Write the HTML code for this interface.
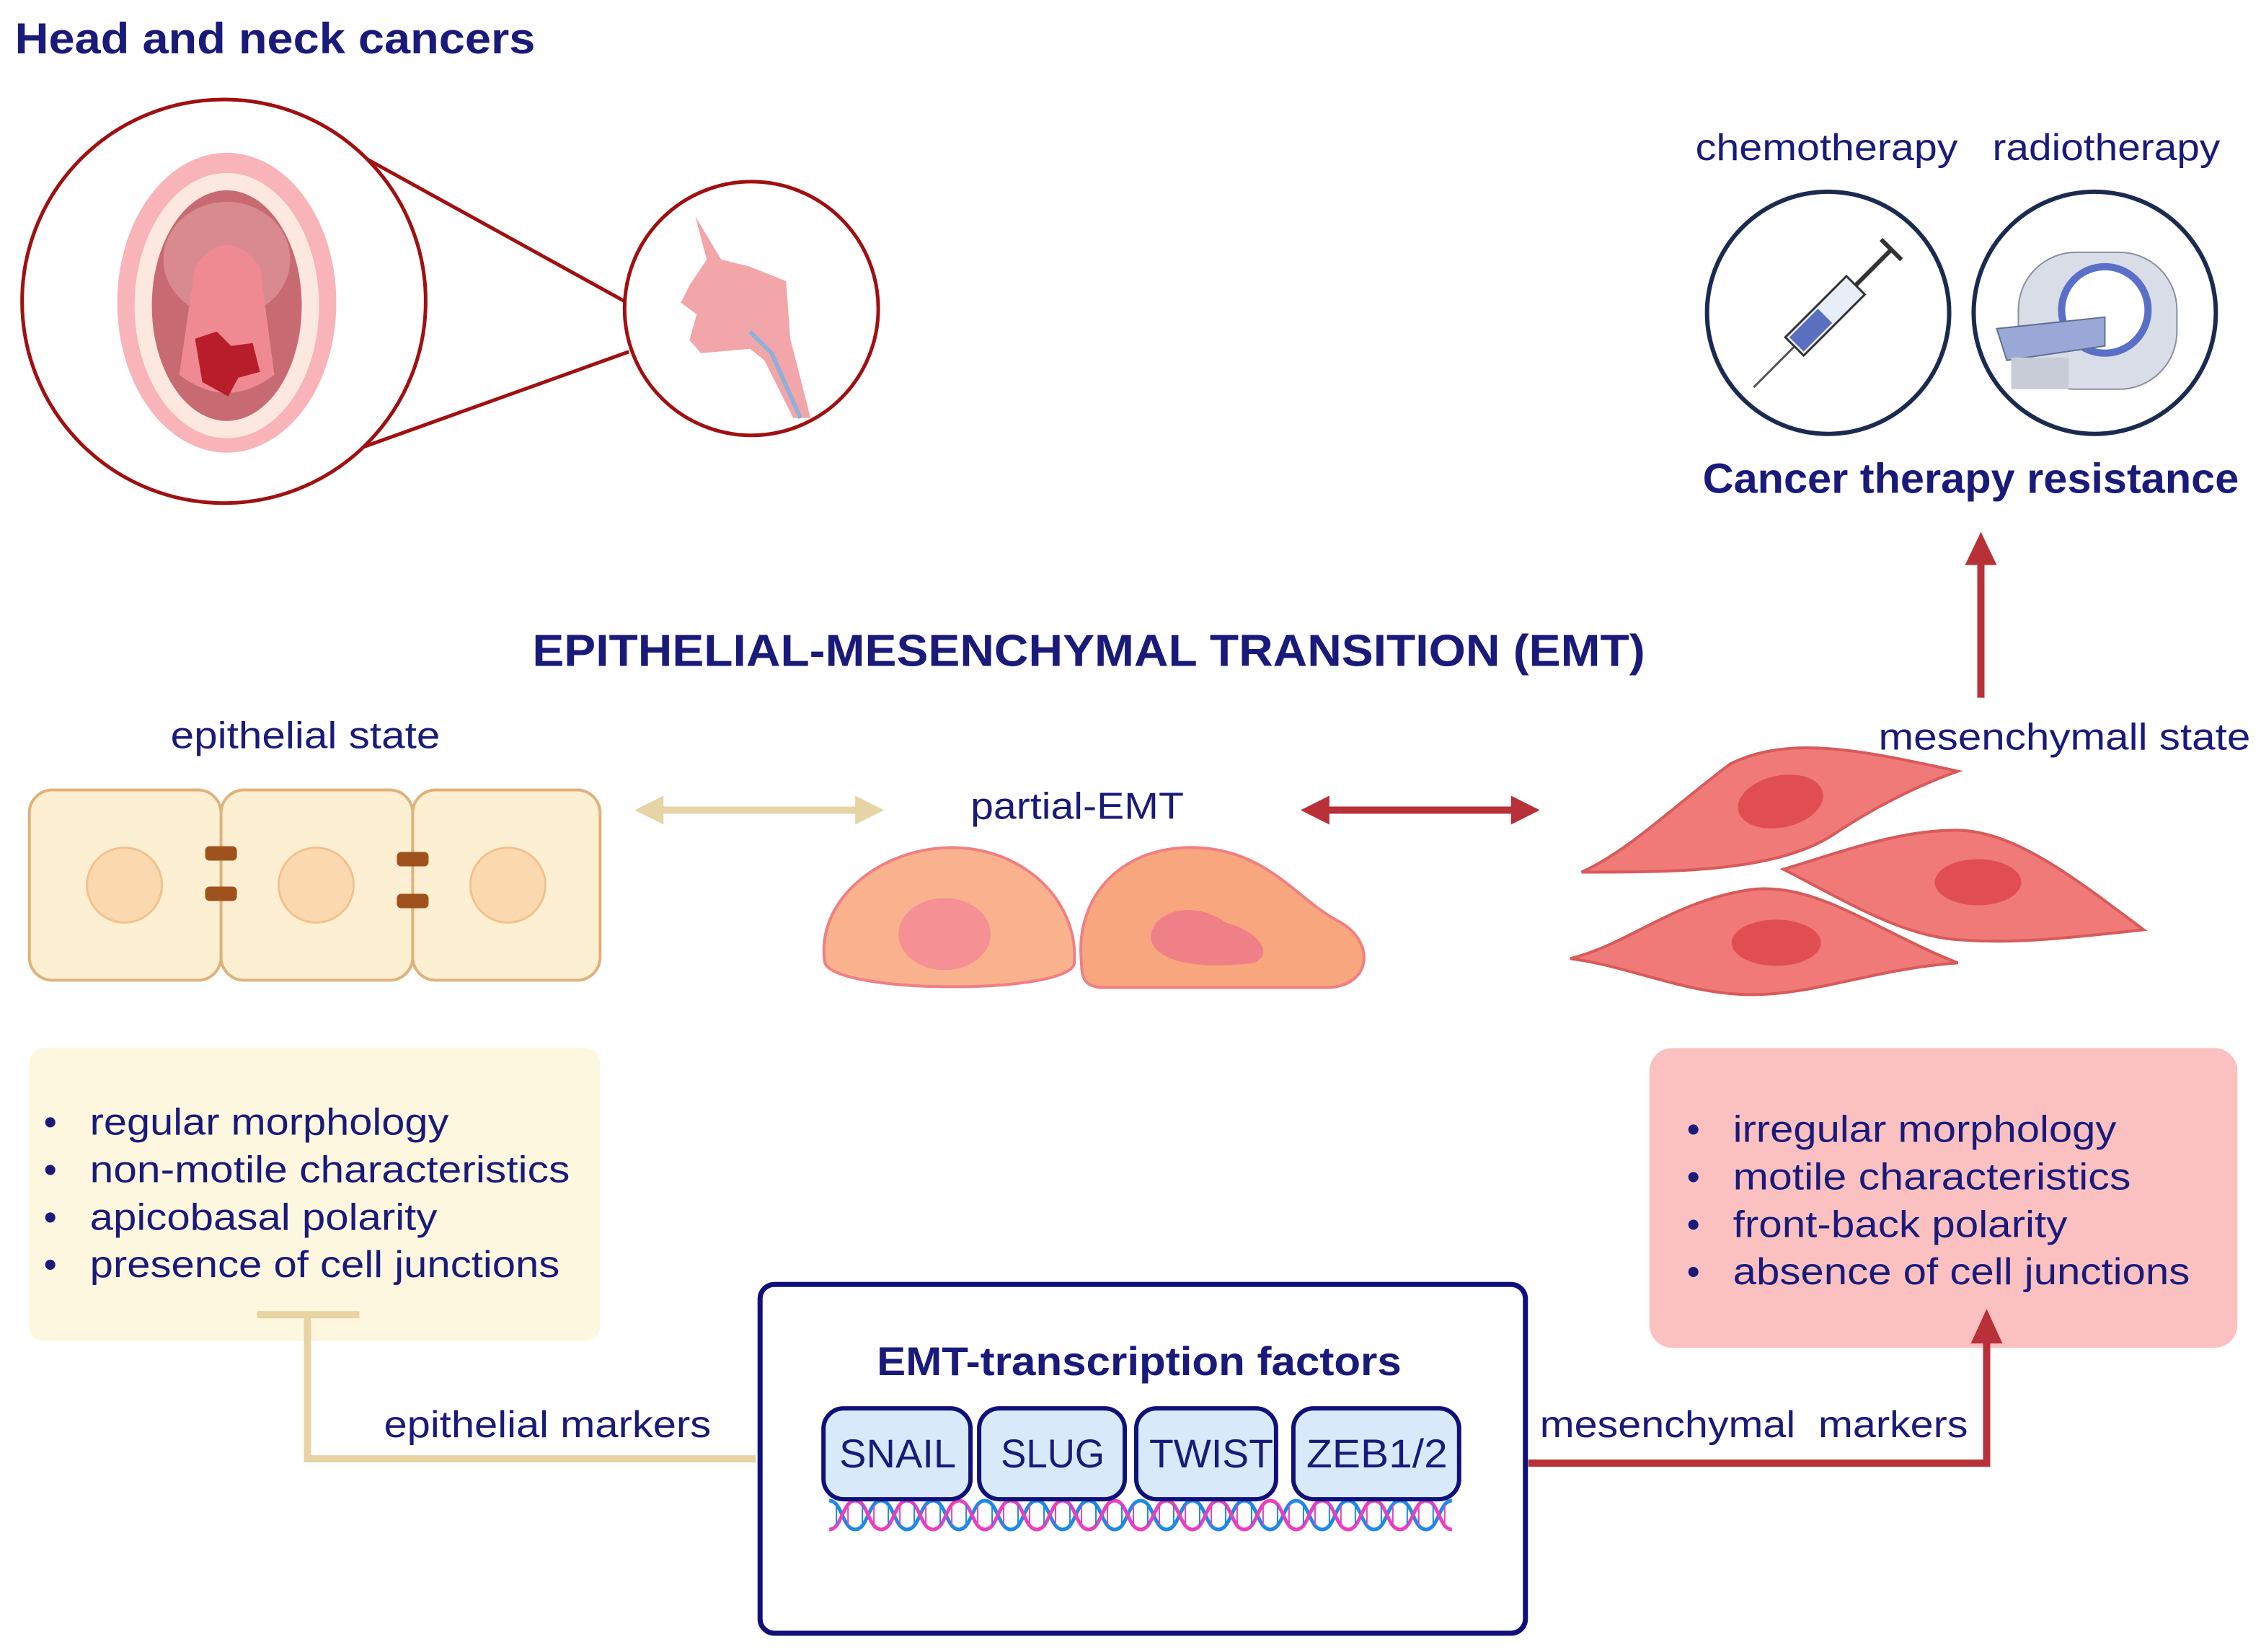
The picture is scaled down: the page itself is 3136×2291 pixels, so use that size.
<!DOCTYPE html>
<html><head><meta charset="utf-8"><style>
html,body{margin:0;padding:0;background:#fff}
svg{display:block}
text{font-family:"Liberation Sans",sans-serif;fill:#1a1a7a}
</style></head><body>
<svg width="3136" height="2291" viewBox="0 0 1568 1146" xmlns="http://www.w3.org/2000/svg">
<defs>
<pattern id="dna" x="575" y="1038" width="36" height="26" patternUnits="userSpaceOnUse">
<path d="M0,3 C9,3 9,23 18,23 C27,23 27,3 36,3" fill="none" stroke="#1e88e5" stroke-width="2.5"/>
<path d="M0,23 C9,23 9,3 18,3 C27,3 27,23 36,23" fill="none" stroke="#e83fbf" stroke-width="2.5"/>
<line x1="5" y1="6" x2="5" y2="20" stroke="#1e88e5" stroke-width="1"/>
<line x1="13" y1="6" x2="13" y2="20" stroke="#e83fbf" stroke-width="1"/>
<line x1="23" y1="6" x2="23" y2="20" stroke="#1e88e5" stroke-width="1"/>
<line x1="31" y1="6" x2="31" y2="20" stroke="#e83fbf" stroke-width="1"/>
</pattern>
</defs>

<text x="10" y="37" font-size="30" font-weight="bold" textLength="361" lengthAdjust="spacingAndGlyphs">Head and neck cancers</text>

<!-- magnifier -->
<line x1="250" y1="108" x2="433" y2="209" stroke="#a01010" stroke-width="2.5"/>
<line x1="252" y1="310" x2="436" y2="244" stroke="#a01010" stroke-width="2.5"/>
<circle cx="155" cy="209" r="140" fill="#fff" stroke="#a01010" stroke-width="2.5"/>
<circle cx="521" cy="214" r="88" fill="#fff" stroke="#a01010" stroke-width="2.5"/>
<!-- mouth -->
<ellipse cx="157" cy="210" rx="76" ry="104" fill="#f8b4b8"/>
<ellipse cx="157" cy="212" rx="64" ry="92" fill="#fde8e0"/>
<ellipse cx="157" cy="212" rx="52" ry="80" fill="#c86a72"/>
<ellipse cx="157" cy="180" rx="44" ry="40" fill="#d98a8e"/>
<path d="M135,185 Q157,155 180,185 L190,260 Q157,285 124,260 Z" fill="#f08a92"/>
<path d="M135,235 L150,230 L160,240 L175,238 L180,258 L165,262 L158,275 L140,265 Z" fill="#b81e2a"/>
<!-- throat profile -->
<path d="M482,150 L490,180 L478,198 L472,210 L483,218 L478,236 L486,245 L520,242 L530,250 L550,290 L562,290 L548,235 L545,195 L520,185 L500,180 Z" fill="#f0969a" opacity="0.85"/>
<path d="M520,230 L535,245 L555,290" stroke="#8fb0d8" stroke-width="3" fill="none"/>

<!-- therapy -->
<text x="1176" y="111" font-size="26" textLength="182" lengthAdjust="spacingAndGlyphs">chemotherapy</text>
<text x="1382" y="111" font-size="26" textLength="158" lengthAdjust="spacingAndGlyphs">radiotherapy</text>
<circle cx="1268" cy="217" r="84" fill="#fff" stroke="#1a2a50" stroke-width="3"/>
<circle cx="1453" cy="217" r="84" fill="#fff" stroke="#1a2a50" stroke-width="3"/>
<g transform="rotate(-45 1268 217)">
<line x1="1195" y1="217" x2="1235" y2="217" stroke="#555" stroke-width="1.5"/>
<rect x="1235" y="208" width="60" height="18" fill="#e8eef8" stroke="#333" stroke-width="1.5"/>
<rect x="1237" y="210" width="28" height="14" fill="#5a6fc0"/>
<line x1="1295" y1="217" x2="1330" y2="217" stroke="#333" stroke-width="3"/>
<line x1="1330" y1="207" x2="1330" y2="227" stroke="#333" stroke-width="3"/>
</g>
<rect x="1400" y="175" width="110" height="95" rx="40" fill="#d8dde8" stroke="#8890a0"/>
<circle cx="1460" cy="215" r="30" fill="#fff" stroke="#5a70c8" stroke-width="5"/>
<path d="M1385,228 L1460,220 L1460,240 L1392,250 Z" fill="#9aa8d8" stroke="#607090"/>
<rect x="1395" y="248" width="40" height="22" fill="#c8ccd6"/>
<text x="1181" y="342" font-size="29" font-weight="bold" textLength="372" lengthAdjust="spacingAndGlyphs">Cancer therapy resistance</text>
<line x1="1374" y1="484" x2="1374" y2="390" stroke="#b83038" stroke-width="5"/>
<polygon points="1363,392 1385,392 1374,369" fill="#b83038"/>

<text x="369" y="462" font-size="31" font-weight="bold" textLength="772" lengthAdjust="spacingAndGlyphs">EPITHELIAL-MESENCHYMAL TRANSITION (EMT)</text>

<!-- epithelial -->
<text x="118" y="519" font-size="26" textLength="187" lengthAdjust="spacingAndGlyphs">epithelial state</text>
<g fill="#fdf0d2" stroke="#dfb27a" stroke-width="2">
<rect x="20" y="548" width="133" height="132" rx="16"/>
<rect x="153" y="548" width="133" height="132" rx="16"/>
<rect x="286" y="548" width="130" height="132" rx="16"/>
</g>
<g fill="#fbd8ad" stroke="#f2c28c" stroke-width="1.5">
<circle cx="86" cy="614" r="26"/><circle cx="219" cy="614" r="26"/><circle cx="352" cy="614" r="26"/>
</g>
<g fill="#a0521e">
<rect x="142" y="587" width="22" height="10" rx="3"/><rect x="142" y="615" width="22" height="10" rx="3"/>
<rect x="275" y="591" width="22" height="10" rx="3"/><rect x="275" y="620" width="22" height="10" rx="3"/>
</g>

<!-- arrows -->
<line x1="455" y1="562" x2="598" y2="562" stroke="#e6d4a6" stroke-width="5"/>
<polygon points="440,562 460,552 460,572" fill="#e6d4a6"/><polygon points="613,562 593,552 593,572" fill="#e6d4a6"/>
<line x1="918" y1="562" x2="1052" y2="562" stroke="#b83038" stroke-width="5"/>
<polygon points="902,562 922,552 922,572" fill="#b83038"/><polygon points="1068,562 1048,552 1048,572" fill="#b83038"/>

<text x="673" y="568" font-size="26" textLength="148" lengthAdjust="spacingAndGlyphs">partial-EMT</text>
<path d="M572,668 C565,625 610,588 660,588 C710,588 748,625 745,668 C743,690 580,690 572,668 Z" fill="#fab28e" stroke="#f07f82" stroke-width="2"/>
<ellipse cx="655" cy="648" rx="32" ry="25" fill="#f59094"/>
<path d="M750,668 C745,620 780,586 830,588 C880,590 900,625 930,640 C955,655 950,685 920,685 L765,685 C752,685 750,678 750,668 Z" fill="#f8a67e" stroke="#f07f82" stroke-width="2"/>
<path d="M798,650 C800,630 830,625 850,640 C870,645 885,660 870,668 C840,672 800,670 798,650 Z" fill="#f08088"/>

<!-- mesenchymal -->
<text x="1303" y="520" font-size="26" textLength="258" lengthAdjust="spacingAndGlyphs">mesenchymall state</text>
<g fill="#f07a78" stroke="#d85a5a" stroke-width="2">
<path d="M1097,605 C1130,590 1160,560 1200,530 C1240,510 1290,520 1358,535 C1330,545 1300,560 1270,580 C1230,605 1160,605 1097,605 Z"/>
<path d="M1237,603 C1280,590 1320,575 1360,576 C1400,578 1440,610 1487,645 C1440,650 1400,655 1360,652 C1320,650 1280,625 1237,603 Z"/>
<path d="M1089,665 C1130,655 1160,625 1215,617 C1260,612 1300,645 1358,668 C1300,672 1260,690 1215,690 C1170,690 1130,670 1089,665 Z"/>
</g>
<g fill="#e04e52">
<ellipse cx="1235" cy="556" rx="30" ry="18" transform="rotate(-12 1235 556)"/>
<ellipse cx="1372" cy="612" rx="30" ry="16"/>
<ellipse cx="1232" cy="654" rx="31" ry="16"/>
</g>

<!-- boxes -->
<rect x="20" y="727" width="396" height="203" rx="10" fill="#fef7df"/>
<g font-size="26">
<text x="30" y="787">•</text><text x="62" y="787" textLength="249" lengthAdjust="spacingAndGlyphs">regular morphology</text>
<text x="30" y="820">•</text><text x="62" y="820" textLength="333" lengthAdjust="spacingAndGlyphs">non-motile characteristics</text>
<text x="30" y="853">•</text><text x="62" y="853" textLength="241" lengthAdjust="spacingAndGlyphs">apicobasal polarity</text>
<text x="30" y="886">•</text><text x="62" y="886" textLength="326" lengthAdjust="spacingAndGlyphs">presence of cell junctions</text>
</g>
<rect x="1144" y="727" width="408" height="208" rx="16" fill="#fbc1c0"/>
<g font-size="26">
<text x="1170" y="792">•</text><text x="1202" y="792" textLength="266" lengthAdjust="spacingAndGlyphs">irregular morphology</text>
<text x="1170" y="825">•</text><text x="1202" y="825" textLength="276" lengthAdjust="spacingAndGlyphs">motile characteristics</text>
<text x="1170" y="858">•</text><text x="1202" y="858" textLength="232" lengthAdjust="spacingAndGlyphs">front-back polarity</text>
<text x="1170" y="891">•</text><text x="1202" y="891" textLength="317" lengthAdjust="spacingAndGlyphs">absence of cell junctions</text>
</g>

<!-- connectors -->
<polyline points="524,1012 213,1012 213,912" fill="none" stroke="#e8d3a2" stroke-width="5"/>
<line x1="178" y1="912" x2="249" y2="912" stroke="#e8d3a2" stroke-width="5"/>
<text x="266" y="997" font-size="26" textLength="227" lengthAdjust="spacingAndGlyphs">epithelial markers</text>
<polyline points="1060,1015 1378,1015 1378,930" fill="none" stroke="#b83038" stroke-width="5"/>
<polygon points="1367,932 1389,932 1378,908" fill="#b83038"/>
<text x="1068" y="997" font-size="26" xml:space="preserve" textLength="297" lengthAdjust="spacingAndGlyphs">mesenchymal  markers</text>

<!-- TF box -->
<rect x="527" y="891" width="531" height="242" rx="10" fill="#fff" stroke="#10107a" stroke-width="3.5"/>
<text x="608" y="954" font-size="28" font-weight="bold" textLength="364" lengthAdjust="spacingAndGlyphs">EMT-transcription factors</text>
<rect x="575" y="1038" width="432" height="26" fill="url(#dna)"/>
<g fill="#d8eaf9" stroke="#10107a" stroke-width="3">
<rect x="571" y="977" width="102" height="63" rx="14"/>
<rect x="679" y="977" width="101" height="63" rx="14"/>
<rect x="788" y="977" width="97" height="63" rx="14"/>
<rect x="897" y="977" width="115" height="63" rx="14"/>
</g>
<g font-size="28">
<text x="582" y="1018" textLength="81" lengthAdjust="spacingAndGlyphs">SNAIL</text>
<text x="694" y="1018" textLength="72" lengthAdjust="spacingAndGlyphs">SLUG</text>
<text x="797" y="1018" textLength="86" lengthAdjust="spacingAndGlyphs">TWIST</text>
<text x="906" y="1018" textLength="98" lengthAdjust="spacingAndGlyphs">ZEB1/2</text>
</g>
</svg>
</body></html>
